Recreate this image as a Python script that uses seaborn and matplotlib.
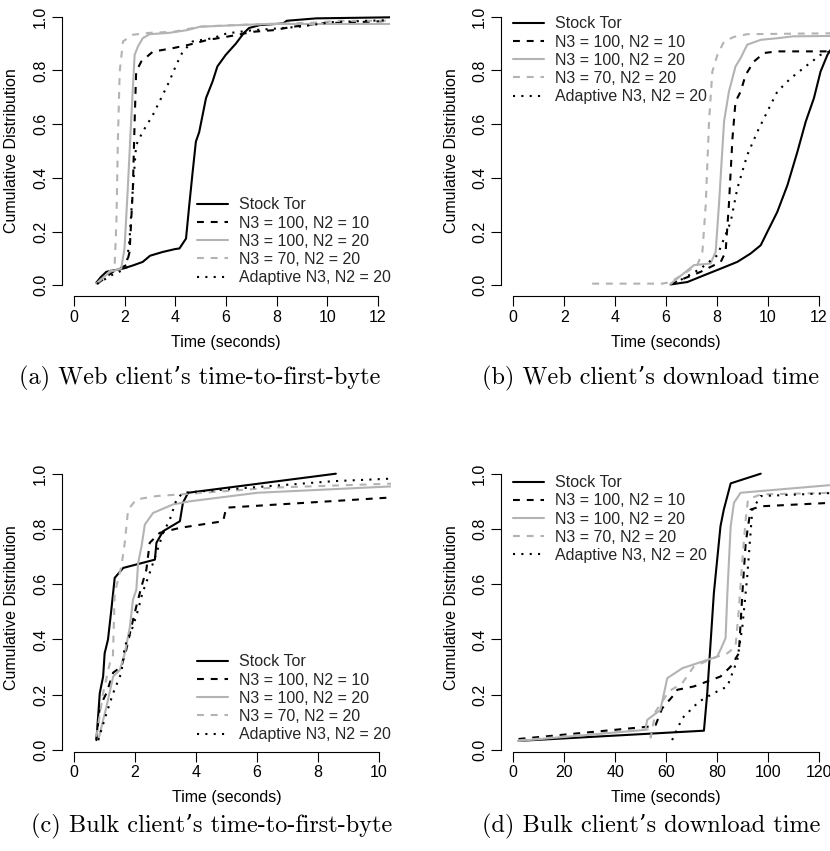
import matplotlib
matplotlib.use("Agg")
import matplotlib.pyplot as plt
import numpy as np
import pandas as pd
import seaborn as sns

# ---------------- data ----------------
series_names = ["Stock Tor", "N3 = 100, N2 = 10", "N3 = 100, N2 = 20",
                "N3 = 70, N2 = 20", "Adaptive N3, N2 = 20"]

# (a) Web client's time-to-first-byte
a_stock_t = [0.88, 1.05, 1.27, 1.93, 2.36, 2.71, 3.0, 3.5, 4.0, 4.16, 4.42, 4.55, 4.68, 4.81,
             4.94, 5.21, 5.47, 5.66, 5.99, 6.39, 6.71, 6.91, 7.34, 8.26, 8.4, 9.57, 12.6]
a_stock_c = [0.01, 0.03, 0.05, 0.062, 0.075, 0.087, 0.11, 0.124, 0.135, 0.137, 0.174, 0.30, 0.42,
             0.535, 0.57, 0.697, 0.759, 0.815, 0.858, 0.90, 0.94, 0.958, 0.969, 0.975, 0.985, 0.994, 0.998]
a_n10_t = [0.92, 1.53, 2.06, 2.19, 2.32, 2.39, 2.45, 2.65, 3.11, 3.9, 4.55, 5.25, 6.3, 7.08, 7.87, 8.66, 9.7, 12.6]
a_n10_c = [0.006, 0.05, 0.075, 0.124, 0.36, 0.61, 0.796, 0.833, 0.87, 0.883, 0.896, 0.913, 0.93, 0.944,
           0.95, 0.963, 0.975, 0.985]
a_n20_t = [0.88, 1.4, 1.86, 1.99, 2.12, 2.25, 2.39, 2.52, 2.71, 2.98, 3.76, 4.46, 4.98, 6.56, 7.6, 12.6]
a_n20_c = [0.006, 0.05, 0.062, 0.137, 0.36, 0.61, 0.858, 0.889, 0.92, 0.935, 0.94, 0.95, 0.963, 0.969, 0.973, 0.973]
a_n70_t = [0.88, 1.4, 1.6, 1.67, 1.73, 1.8, 1.93, 2.32, 2.98, 3.93, 4.98, 6.3, 7.6, 9.5, 10.5, 12.6]
a_n70_c = [0.006, 0.05, 0.075, 0.236, 0.547, 0.796, 0.908, 0.933, 0.94, 0.944, 0.963, 0.969, 0.973, 0.978, 0.985, 0.985]
a_adapt_t = [0.9, 1.53, 2.06, 2.19, 2.32, 2.45, 2.71, 3.11, 3.5, 3.76, 4.03, 4.29, 4.68, 5.47, 6.03,
             7.08, 8.13, 8.92, 10.2, 12.6]
a_adapt_c = [0.005, 0.04, 0.062, 0.174, 0.36, 0.522, 0.572, 0.634, 0.709, 0.759, 0.82, 0.87, 0.908, 0.92,
             0.938, 0.95, 0.957, 0.963, 0.98, 0.988]

# (b) Web client's download time
b_stock_t = [6.18, 6.84, 7.49, 8.15, 8.8, 9.32, 9.72, 9.98, 10.37, 10.77, 11.16, 11.49, 11.81, 12.07, 12.34, 12.47, 12.8]
b_stock_c = [0.003, 0.012, 0.037, 0.062, 0.087, 0.118, 0.149, 0.199, 0.273, 0.373, 0.497, 0.61, 0.697,
             0.796, 0.858, 0.877, 0.93]
b_n10_t = [6.18, 7.36, 8.15, 8.34, 8.47, 8.61, 8.73, 8.93, 9.13, 9.45, 9.85, 10.37, 12.34, 14.0]
b_n10_c = [0.005, 0.05, 0.087, 0.124, 0.30, 0.547, 0.684, 0.721, 0.784, 0.833, 0.865, 0.871, 0.871, 0.875]
b_n20_t = [6.18, 7.1, 7.75, 7.95, 8.08, 8.28, 8.47, 8.73, 8.93, 9.19, 9.72, 10.37, 10.99, 14.0]
b_n20_c = [0.005, 0.075, 0.081, 0.124, 0.30, 0.61, 0.721, 0.815, 0.846, 0.896, 0.914, 0.92, 0.927, 0.93]
b_n70_t = [3.1, 5.85, 6.18, 7.23, 7.43, 7.56, 7.69, 7.82, 8.02, 8.28, 8.67, 9.19, 14.0]
b_n70_c = [0.006, 0.006, 0.012, 0.075, 0.124, 0.30, 0.61, 0.796, 0.858, 0.908, 0.925, 0.935, 0.94]
b_adapt_t = [6.3, 7.36, 8.02, 8.28, 8.54, 8.8, 9.19, 9.59, 9.98, 10.37, 10.9, 11.55, 12.07, 12.4, 12.8]
b_adapt_c = [0.005, 0.062, 0.112, 0.174, 0.236, 0.36, 0.485, 0.572, 0.647, 0.721, 0.771, 0.82, 0.858, 0.87, 0.88]

# (c) Bulk client's time-to-first-byte
c_stock_t = [0.73, 0.84, 0.95, 1.0, 1.11, 1.22, 1.33, 1.61, 2.65, 2.7, 2.92, 3.47, 3.57, 3.74, 8.59]
c_stock_c = [0.036, 0.206, 0.266, 0.35, 0.40, 0.508, 0.623, 0.659, 0.689, 0.75, 0.792, 0.828, 0.895, 0.931, 1.0]
c_n10_t = [0.73, 0.84, 1.06, 1.28, 1.55, 1.71, 1.88, 2.04, 2.21, 2.37, 2.48, 2.81, 3.47, 4.89, 4.99, 11.0]
c_n10_c = [0.036, 0.157, 0.206, 0.28, 0.302, 0.363, 0.447, 0.52, 0.592, 0.653, 0.75, 0.786, 0.804, 0.828, 0.877, 0.918]
c_n20_t = [0.79, 1.06, 1.28, 1.5, 1.66, 1.83, 1.93, 2.04, 2.1, 2.21, 2.32, 2.59, 3.25, 3.79, 6.02, 11.0]
c_n20_c = [0.036, 0.157, 0.266, 0.29, 0.35, 0.447, 0.544, 0.58, 0.677, 0.737, 0.816, 0.858, 0.889, 0.90, 0.931, 0.957]
c_n70_t = [0.73, 0.95, 1.17, 1.27, 1.33, 1.55, 1.66, 1.77, 2.04, 2.7, 3.47, 6.6, 11.0]
c_n70_c = [0.048, 0.206, 0.314, 0.334, 0.568, 0.665, 0.75, 0.87, 0.907, 0.919, 0.925, 0.95, 0.966]
c_adapt_t = [0.79, 1.06, 1.28, 1.55, 1.66, 1.93, 2.1, 2.24, 2.48, 2.7, 2.92, 3.14, 3.36, 3.57, 8.52, 11.0]
c_adapt_c = [0.036, 0.133, 0.206, 0.28, 0.375, 0.447, 0.508, 0.568, 0.641, 0.713, 0.786, 0.834, 0.907,
             0.931, 0.973, 0.985]

# (d) Bulk client's download time
d_stock_t = [2.1, 74.9, 76.2, 77.5, 78.8, 80.1, 81.4, 82.7, 84.1, 85.4, 97.2]
d_stock_c = [0.033, 0.07, 0.206, 0.387, 0.568, 0.689, 0.81, 0.87, 0.919, 0.965, 1.0]
d_n10_t = [2.1, 53.5, 55.9, 58.5, 63.7, 64.4, 70.9, 81.4, 85.4, 88.6, 90.0, 91.3, 93.2, 97.2, 130]
d_n10_c = [0.04, 0.085, 0.09, 0.151, 0.206, 0.218, 0.23, 0.266, 0.302, 0.35, 0.568, 0.75, 0.87, 0.882, 0.897]
d_n20_t = [2.1, 51.9, 52.6, 57.8, 60.5, 66.4, 80.1, 81.4, 83.4, 84.1, 85.4, 86.7, 89.3, 130]
d_n20_c = [0.033, 0.073, 0.109, 0.145, 0.26, 0.296, 0.338, 0.363, 0.405, 0.568, 0.81, 0.895, 0.931, 0.963]
d_n70_t = [2.1, 53.5, 54.0, 55.9, 61.1, 66.4, 70.9, 80.1, 84.1, 87.3, 88.6, 90.0, 91.3, 92.2, 97.2, 130]
d_n70_c = [0.035, 0.075, 0.045, 0.139, 0.212, 0.242, 0.302, 0.338, 0.35, 0.375, 0.508, 0.689, 0.834,
           0.907, 0.925, 0.932]
d_adapt_t = [62.4, 66.4, 72.9, 78.8, 84.1, 88.0, 90.0, 91.9, 93.9, 97.2, 130]
d_adapt_c = [0.036, 0.115, 0.175, 0.206, 0.23, 0.326, 0.447, 0.628, 0.87, 0.919, 0.932]

captions = ["(a) Web client\u2019s time-to-first-byte", "(b) Web client\u2019s download time",
            "(c) Bulk client\u2019s time-to-first-byte", "(d) Bulk client\u2019s download time"]
y_ticks = [0.0, 0.2, 0.4, 0.6, 0.8, 1.0]
y_tick_labels = ["0.0", "0.2", "0.4", "0.6", "0.8", "1.0"]
x_ticks_web = [0, 2, 4, 6, 8, 10, 12]
x_ticks_bulk_ttfb = [0, 2, 4, 6, 8, 10]
x_ticks_bulk_dl = [0, 20, 40, 60, 80, 100, 120]

panels = [
    [(a_stock_t, a_stock_c), (a_n10_t, a_n10_c), (a_n20_t, a_n20_c), (a_n70_t, a_n70_c), (a_adapt_t, a_adapt_c)],
    [(b_stock_t, b_stock_c), (b_n10_t, b_n10_c), (b_n20_t, b_n20_c), (b_n70_t, b_n70_c), (b_adapt_t, b_adapt_c)],
    [(c_stock_t, c_stock_c), (c_n10_t, c_n10_c), (c_n20_t, c_n20_c), (c_n70_t, c_n70_c), (c_adapt_t, c_adapt_c)],
    [(d_stock_t, d_stock_c), (d_n10_t, d_n10_c), (d_n20_t, d_n20_c), (d_n70_t, d_n70_c), (d_adapt_t, d_adapt_c)],
]

# ---------------- style ----------------
sns.set_theme(style="ticks")
plt.rcParams["font.family"] = ["Liberation Sans", "DejaVu Sans"]
plt.rcParams["axes.edgecolor"] = "black"
plt.rcParams["axes.linewidth"] = 0.8

GREY = "#b3b3b3"
series_style = [
    dict(color="black"),
    dict(color="black", dashes=(3.3, 3.3)),
    dict(color=GREY),
    dict(color=GREY, dashes=(3.3, 3.3)),
    dict(color="black", dashes=(1, 3)),
]

W, H = 830, 851
fig = plt.figure(figsize=(W / 100, H / 100), dpi=100)


def px_axes(left, top, right, bottom):
    return fig.add_axes([left / W, 1 - bottom / H, (right - left) / W, (bottom - top) / H])


axes_spec = [
    dict(box=(62, 6, 390, 296), xlim=(-0.48, 12.48), ylim=(-0.04, 1.04), xt=x_ticks_web,
         leg=(0.4116, 0.3397), cap=(200, 384)),
    dict(box=(501, 6, 831, 296), xlim=(-0.48, 12.48), ylim=(-0.04, 1.04), xt=x_ticks_web,
         leg=(0.0364, 0.9638), cap=(651, 384)),
    dict(box=(62, 463, 391, 751.6), xlim=(-0.4, 10.4), ylim=(-0.0057, 1.0387), xt=x_ticks_bulk_ttfb,
         leg=(0.41, 0.3368), cap=(212, 832)),
    dict(box=(501, 463, 831, 751.6), xlim=(-4.8, 124.8), ylim=(-0.0057, 1.0387), xt=x_ticks_bulk_dl,
         leg=(0.0364, 0.9577), cap=(651, 832)),
]

FS = 11.5
for spec, data, cap in zip(axes_spec, panels, captions):
    l, t, r, b = spec["box"]
    ax = px_axes(l, t, r, b)
    for name, (tt, cc), st in zip(series_names, data, series_style):
        df = pd.DataFrame({"Time": tt, "CDF": cc})
        sns.lineplot(data=df, x="Time", y="CDF", ax=ax, sort=False, estimator=None,
                     linewidth=1.5, label=name, **st)
    ax.set_xlim(spec["xlim"])
    ax.set_ylim(spec["ylim"])
    ax.set_xticks(spec["xt"])
    ax.set_xticklabels([str(v) for v in spec["xt"]])
    ax.set_yticks(y_ticks)
    ax.set_yticklabels(y_tick_labels, rotation=90, va="center")
    for s in ("top", "right"):
        ax.spines[s].set_visible(False)
    ax.spines["left"].set_bounds(0, 1)
    ax.spines["bottom"].set_bounds(spec["xt"][0], spec["xt"][-1])
    ax.tick_params(axis="both", direction="out", length=7, width=0.8, color="black",
                   labelsize=FS, pad=3, labelcolor="black")
    ax.set_xlabel("Time (seconds)", fontsize=FS, color="black")
    ax.set_ylabel("Cumulative Distribution", fontsize=FS, color="black")
    ax.xaxis.set_label_coords(0.5, -46 / (b - t))
    ax.xaxis.label.set_va("center")
    ax.yaxis.set_label_coords(-50 / (r - l), 0.5)
    ax.yaxis.label.set_va("center")
    ax.legend(loc="upper left", bbox_to_anchor=spec["leg"], frameon=False, fontsize=FS,
              handlelength=1.95, handletextpad=0.7, labelspacing=0.2, borderpad=0,
              borderaxespad=0)
    cx, cy = spec["cap"]
    fig.text(cx / W, 1 - cy / H, cap, ha="center", va="baseline", fontsize=17.5,
             family=["cmr10", "DejaVu Serif"], color="black")

fig.savefig("out.png", dpi=100)
